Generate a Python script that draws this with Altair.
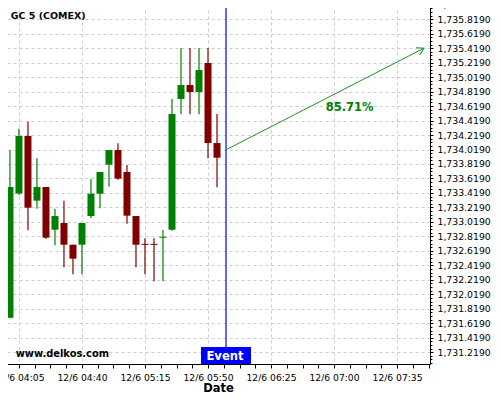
import altair as alt
import pandas as pd

# ---- data (5-minute candles, GC 5 COMEX, 12/6) ----
times = ["04:00", "04:05", "04:10", "04:15", "04:20", "04:25", "04:30", "04:35",
         "04:40", "04:45", "04:50", "04:55", "05:00", "05:05", "05:10", "05:15",
         "05:20", "05:25", "05:30", "05:35", "05:40", "05:45", "05:50", "05:55"]
opens = [1731.696, 1733.413, 1734.206, 1733.312, 1733.501, 1732.911, 1733.004, 1732.704,
         1732.704, 1733.100, 1733.408, 1733.809, 1734.012, 1733.708, 1733.100, 1732.716,
         1732.716, 1732.800, 1732.911, 1734.717, 1734.910, 1734.813, 1735.214, 1734.109]
highs = [1734.012, 1734.306, 1734.403, 1733.897, 1733.501, 1733.201, 1733.312, 1732.704,
         1733.004, 1733.611, 1733.708, 1734.012, 1734.105, 1733.805, 1733.100, 1732.792,
         1732.792, 1732.907, 1734.717, 1735.421, 1735.421, 1735.421, 1735.421, 1734.509]
lows = [1731.688, 1733.390, 1732.903, 1733.201, 1732.787, 1732.696, 1732.392, 1732.295,
        1732.295, 1733.073, 1733.207, 1733.505, 1733.602, 1732.994, 1732.392, 1732.295,
        1732.199, 1732.199, 1732.897, 1734.505, 1734.505, 1734.505, 1733.897, 1733.497]
closes = [1733.501, 1734.206, 1733.215, 1733.501, 1732.801, 1733.100, 1732.704, 1732.511,
          1733.004, 1733.408, 1733.708, 1734.012, 1733.616, 1733.105, 1732.704, 1732.702,
          1732.702, 1732.814, 1734.509, 1734.910, 1734.813, 1735.117, 1734.109, 1733.906]

event_time = "06:00"
forecast_start = ["06:00", 1734.015]
forecast_end = ["07:50", 1735.419]
forecast_label = "85.71%"
forecast_label_pos = [188.7, 1734.550]

x_major = ["04:05", "04:40", "05:15", "05:50", "06:25", "07:00", "07:35"]
y_major = [1731.219, 1731.419, 1731.619, 1731.819, 1732.019, 1732.219, 1732.419, 1732.619,
           1732.819, 1733.019, 1733.219, 1733.419, 1733.619, 1733.819, 1734.019, 1734.219,
           1734.419, 1734.619, 1734.819, 1735.019, 1735.219, 1735.419, 1735.619, 1735.819,
           1736.019]


def to_min(t):
    h, m = t.split(":")
    return (int(h) - 4) * 60 + int(m)


df = pd.DataFrame({"t": [to_min(t) for t in times], "open": opens, "high": highs,
                   "low": lows, "close": closes})
df["dir"] = ["up" if c >= o else "down" for o, c in zip(opens, closes)]

x_dom = [-2.2, 233.3]
y_dom = [1731.0563, 1736.0287]

# tick value lists (majors plus minor subdivisions)
x_major_min = [to_min(t) for t in x_major]
x_vals = []
v = x_major_min[0]
while v <= x_dom[1]:
    x_vals.append(v)
    v += 8.75
y_vals = sorted(set([round(m + d, 4) for m in y_major for d in (-0.15, -0.1, -0.05, 0.0)
                     if y_dom[0] <= m + d <= y_dom[1]]))

FONT = "DejaVu Sans"
GREEN = "#008000"
RED = "#800000"
GRID = "#cccccc"
ARROW = "#1f941f"

x_major_test = "indexof([%s], datum.value) >= 0" % ",".join(str(m) for m in x_major_min)
y_major_test = "indexof([%s], datum.value) >= 0" % ",".join(str(m) for m in y_major)

x_scale = alt.Scale(domain=x_dom, nice=False, zero=False, padding=0)
y_scale = alt.Scale(domain=y_dom, nice=False, zero=False, padding=0)

x_axis = alt.Axis(
    values=x_vals,
    title="Date",
    labelExpr=("(" + x_major_test + ") ? '12/6 ' + pad(toString(4 + floor(datum.value/60)), 2, '0', 'left') + ':' + "
               "pad(toString(datum.value % 60), 2, '0', 'left') : ''"),
    grid=True,
    gridOpacity={"condition": {"test": x_major_test, "value": 1}, "value": 0},
    gridColor=GRID, gridDash=[3, 3], gridWidth=1,
    tickSize=4, tickColor="black", domainColor="black",
    labelFont=FONT, labelFontSize=9.2, labelColor="black", labelPadding=12,
    labelBaseline="alphabetic",
    labelOverlap=False, labelFlush=False,
    titleFont=FONT, titleFontSize=11.5, titleFontWeight="bold", titleColor="black",
    titleBaseline="alphabetic", titleY=27.5,
)
y_axis = alt.Axis(
    orient="right",
    values=y_vals,
    title=None,
    labelExpr="(" + y_major_test + ") ? format(datum.value, ',.4f') : ''",
    grid=True,
    gridOpacity={"condition": {"test": y_major_test, "value": 1}, "value": 0},
    gridColor=GRID, gridDash=[3, 3], gridWidth=1,
    tickSize={"condition": {"test": y_major_test, "value": 3}, "value": 2},
    tickColor="black", domainColor="black",
    labelFont=FONT, labelFontSize=9.3, labelColor="black", labelPadding=4,
    labelOverlap=False, labelFlush=False,
)


def X(field):
    return alt.X(field, type="quantitative", scale=x_scale, axis=x_axis)


def Y(field):
    return alt.Y(field, type="quantitative", scale=y_scale, axis=y_axis)


color = alt.Color("dir:N", scale=alt.Scale(domain=["up", "down"], range=[GREEN, RED]), legend=None)

base = alt.Chart(df)
wicks = base.mark_rule(strokeWidth=1.2).encode(
    x=X("t"), y=Y("low"), y2="high", color=color)
bodies = base.mark_bar(size=7).encode(
    x=X("t"), y=Y("open"), y2="close", color=color)

ev = pd.DataFrame({"t": [to_min(event_time)]})
event_rule = alt.Chart(ev).mark_rule(color="#0000ff", strokeWidth=1.2).encode(x=X("t"))
event_box = alt.Chart(ev).mark_bar(size=50, color="#0000ff").encode(
    x=X("t"), y=alt.value(343), y2=alt.value(360))
event_text = alt.Chart(ev).mark_text(
    text="Event", color="white", font=FONT, fontSize=11.6, fontWeight="bold",
    align="center", baseline="alphabetic", dx=-1).encode(x=X("t"), y=alt.value(356))

fc = pd.DataFrame({"t": [to_min(forecast_start[0]), to_min(forecast_end[0])],
                   "p": [forecast_start[1], forecast_end[1]]})
fc_line = alt.Chart(fc).mark_line(color=ARROW, strokeWidth=1).encode(x=X("t"), y=Y("p"))
fc_head = alt.Chart(fc.iloc[[1]]).mark_point(
    shape="M -1 -0.58 L 0 0 L -1 0.58", filled=False, color=ARROW,
    strokeWidth=1, size=200, angle=332.6, opacity=1).encode(x=X("t"), y=Y("p"))

lab = pd.DataFrame({"t": [forecast_label_pos[0]], "p": [forecast_label_pos[1]], "s": [forecast_label]})
fc_text = alt.Chart(lab).mark_text(
    color=GREEN, font=FONT, fontSize=11.5, fontWeight="bold", align="center",
    baseline="alphabetic").encode(x=X("t"), y=Y("p"), text="s:N")

title_text = alt.Chart(ev).mark_text(
    text="GC 5 (COMEX)", color="black", font=FONT, fontSize=9.5, fontWeight="bold",
    align="left", baseline="alphabetic").encode(x=alt.value(4.7), y=alt.value(15))
site_text = alt.Chart(ev).mark_text(
    text="www.delkos.com", color="black", font=FONT, fontSize=9.9, fontWeight="bold",
    align="left", baseline="alphabetic").encode(x=alt.value(9.7), y=alt.value(353))

chart = alt.layer(
    wicks, bodies, event_rule, fc_line, fc_head, fc_text, event_box, event_text,
    title_text, site_text
).properties(
    width=424, height=360,
    autosize=alt.AutoSizeParams(type="none"),
    padding={"left": -2, "top": -4, "right": 62, "bottom": 28},
).configure_view(stroke=None).configure(background="white")

chart.save("out.html", embed_options={"renderer": "svg", "actions": False})
